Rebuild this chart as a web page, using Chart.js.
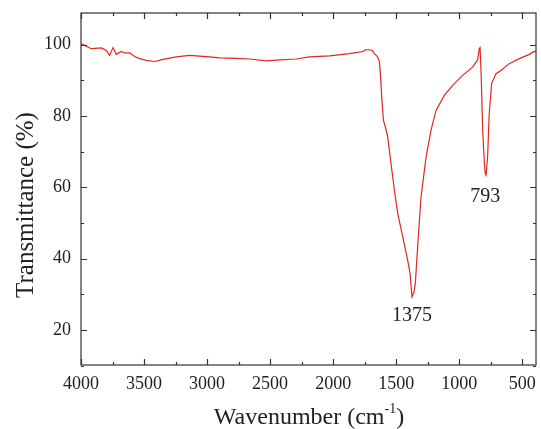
<!DOCTYPE html>
<html>
<head>
<meta charset="utf-8">
<script src="https://cdn.jsdelivr.net/npm/chart.js@4.4.1/dist/chart.umd.min.js"></script>
<style>
  html, body { margin: 0; padding: 0; background: #fff; }
  #wrap { width: 541px; height: 429px; }
</style>
</head>
<body>
<div id="wrap"><canvas id="ftir" width="541" height="429"></canvas></div>
<script>
// spectrum (wavenumber cm-1, transmittance %)
const wavenumbers = [3997, 3918, 3838, 3799, 3773, 3746, 3720, 3680, 3654, 3614, 3574, 3535, 3482, 3416,
  3350, 3244, 3139, 3086, 2980, 2901, 2769, 2663, 2531, 2452, 2293, 2188, 2029, 1871, 1764, 1744, 1718,
  1691, 1673, 1647, 1633, 1625, 1615, 1601, 1586, 1567, 1541, 1514, 1488, 1448, 1409, 1390, 1375, 1360,
  1348, 1330, 1303, 1263, 1224, 1184, 1118, 1052, 973, 894, 854, 841, 835, 827, 814, 800, 793, 787, 775,
  762, 743, 708, 669, 603, 524, 444, 413, 392];
const transmittance = [100.3, 98.9, 99.1, 98.4, 97.0, 99.2, 97.3, 98.1, 97.7, 97.7, 96.7, 96.1, 95.6, 95.3,
  95.9, 96.6, 97.0, 96.9, 96.6, 96.3, 96.2, 96.0, 95.5, 95.7, 96.0, 96.6, 96.9, 97.5, 98.1, 98.6, 98.6,
  98.4, 97.5, 96.6, 95.2, 91.9, 85.4, 78.8, 77.0, 74.1, 66.7, 59.2, 52.7, 46.1, 39.6, 35.9, 29.3, 30.5,
  33.1, 43.3, 57.3, 68.5, 76.0, 81.6, 85.8, 88.6, 91.4, 93.7, 95.8, 98.9, 99.2, 92.8, 76.0, 66.5, 63.8, 63.4, 68.5,
  80.7, 89.1, 91.9, 92.8, 94.7, 96.1, 97.3, 98.0, 98.2];

const xTicks = [4000, 3500, 3000, 2500, 2000, 1500, 1000, 500];
const xMinor = [3750, 3250, 2750, 2250, 1750, 1250, 750];
const yTicks = [20, 40, 60, 80, 100];
const yMinor = [10, 30, 50, 70, 90];
const peakLabels = ['1375', '793'];
const peakX = [1375, 793];
const peakY = [23.9, 57.5];

const serif = '"Liberation Serif", "DejaVu Serif", serif';
const ink = '#222';

// frame, inward ticks, axis titles and peak labels
const framePlugin = {
  id: 'frame',
  afterDraw(chart) {
    const { ctx, chartArea: a, scales } = chart;
    const x = scales.x, y = scales.y;
    ctx.save();
    ctx.strokeStyle = '#333';
    ctx.lineWidth = 1.2;
    ctx.strokeRect(a.left, a.top, a.right - a.left, a.bottom - a.top);
    ctx.beginPath();
    const tickX = (v, len) => {
      const p = Math.round(x.getPixelForValue(v)) + 0.5;
      ctx.moveTo(p, a.bottom); ctx.lineTo(p, a.bottom - len);
      ctx.moveTo(p, a.top); ctx.lineTo(p, a.top + len);
    };
    const tickY = (v, len) => {
      const p = Math.round(y.getPixelForValue(v)) + 0.5;
      ctx.moveTo(a.left, p); ctx.lineTo(a.left + len, p);
      ctx.moveTo(a.right, p); ctx.lineTo(a.right - len, p);
    };
    xTicks.forEach(v => tickX(v, 6));
    xMinor.forEach(v => tickX(v, 3));
    yTicks.forEach(v => tickY(v, 6));
    yMinor.forEach(v => tickY(v, 3));
    ctx.stroke();

    ctx.fillStyle = ink;
    // x title with superscript
    ctx.textBaseline = 'alphabetic';
    const t1 = 'Wavenumber (cm', t3 = ')';
    ctx.font = '14px ' + serif;
    const w2 = ctx.measureText('-1').width;
    ctx.font = '24px ' + serif;
    const w1 = ctx.measureText(t1).width, w3 = ctx.measureText(t3).width;
    const sx = 309 - (w1 + w2 + w3) / 2;
    const by = 424;
    ctx.textAlign = 'left';
    ctx.fillText(t1, sx, by);
    ctx.font = '14px ' + serif;
    ctx.fillText('-1', sx + w1, by - 11);
    ctx.font = '24px ' + serif;
    ctx.fillText(t3, sx + w1 + w2, by);

    // y title
    ctx.save();
    ctx.translate(33, 205);
    ctx.rotate(-Math.PI / 2);
    ctx.font = '25px ' + serif;
    ctx.textAlign = 'center';
    ctx.textBaseline = 'alphabetic';
    ctx.fillText('Transmittance (%)', 0, 0);
    ctx.restore();

    // peak labels
    ctx.font = '20px ' + serif;
    ctx.textAlign = 'center';
    ctx.textBaseline = 'middle';
    peakLabels.forEach((s, i) => {
      ctx.fillText(s, x.getPixelForValue(peakX[i]), y.getPixelForValue(peakY[i]));
    });
    ctx.restore();
  }
};

new Chart(document.getElementById('ftir'), {
  type: 'line',
  data: {
    datasets: [{
      data: wavenumbers.map((w, i) => ({ x: w, y: transmittance[i] })),
      borderColor: '#e3261f',
      borderWidth: 1.2,
      pointRadius: 0,
      tension: 0,
      fill: false
    }]
  },
  options: {
    responsive: false,
    animation: false,
    layout: { padding: { left: 0, right: 5, top: 13, bottom: 0 } },
    plugins: { legend: { display: false }, tooltip: { enabled: false } },
    scales: {
      x: {
        type: 'linear',
        reverse: true,
        min: 391,
        max: 4000,
        grid: { display: false, drawTicks: false },
        border: { display: false },
        afterBuildTicks: s => { s.ticks = xTicks.map(v => ({ value: v })); },
        afterFit: s => { s.height = 64; s.paddingLeft = 0; s.paddingRight = 0; },
        ticks: { padding: 8, color: ink, font: { family: serif, size: 18 }, maxRotation: 0, autoSkip: false,
          callback: v => String(v) }
      },
      y: {
        min: 10.2,
        max: 108.9,
        grid: { display: false, drawTicks: false },
        border: { display: false },
        afterBuildTicks: s => { s.ticks = yTicks.map(v => ({ value: v })); },
        afterFit: s => { s.width = 81; s.paddingTop = 0; s.paddingBottom = 0; },
        ticks: { padding: 10, color: ink, font: { family: serif, size: 18 }, callback: v => String(v) }
      }
    }
  },
  plugins: [framePlugin]
});
</script>
</body>
</html>
